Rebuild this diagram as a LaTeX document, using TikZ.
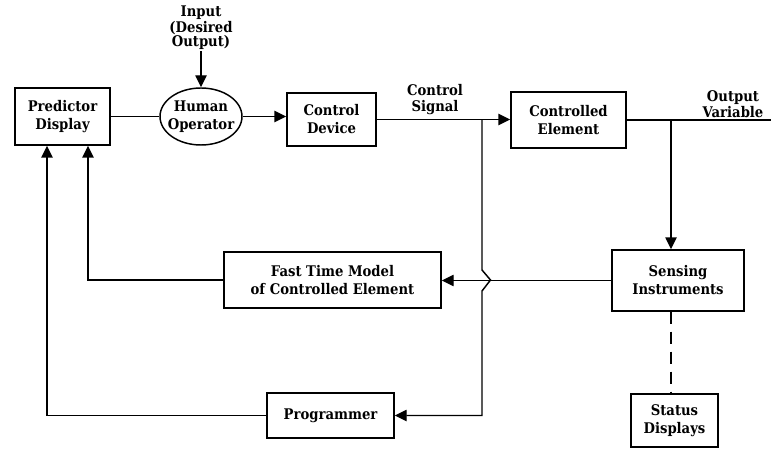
\documentclass[tikz,border=0pt]{standalone}
\usepackage{amsmath,amssymb,xcolor,tikz}
\usepackage{fontspec}
\setmainfont{DejaVu Serif}[FakeStretch=0.9]
\usetikzlibrary{arrows.meta,shapes.geometric}

\tikzset{
  blk/.style={draw, line width=1.1pt, align=center, inner sep=1pt, font=\fontsize{11}{13.5}\selectfont\bfseries},
  lbl/.style={align=center, inner sep=0.75pt, font=\fontsize{11}{12}\selectfont\bfseries},
  conn/.style={line width=1.1pt},
  arr/.style={conn, -{Triangle[length=9pt,width=8.5pt]}}
}

\begin{document}

\begin{tikzpicture}[x=0.75pt,y=0.75pt,yscale=-1,xscale=1]

\useasboundingbox (0,0) rectangle (771,449);

\node (pred) at (62.5,116.5) [blk, minimum width=71.25pt, minimum height=42.75pt] {Predictor\\Display};

\node (human) at (201,116.5) [blk, ellipse, inner xsep=-4.5pt, inner ysep=0pt, minimum width=61.5pt, minimum height=42.75pt] {Human\\Operator};

\node (ctrldev) at (331.5,119.5) [blk, minimum width=66.75pt, minimum height=39.75pt] {Control\\Device};

\node (ctrlel) at (568.5,120) [blk, minimum width=86.25pt, minimum height=42pt] {Controlled\\Element};

\node (fastmdl) at (332.5,280) [blk, minimum width=162.75pt, minimum height=42pt] {Fast Time Model\\of Controlled Element};

\node (sensing) at (678,280.5) [blk, minimum width=99pt, minimum height=45.75pt] {Sensing\\Instruments};

\node (prog) at (330.5,415.5) [blk, minimum width=95.25pt, minimum height=33.75pt] {Programmer};

\node (status) at (674.5,420.5) [blk, minimum width=65.25pt, minimum height=39.75pt] {Status\\Displays};

\node (input) at (201,28) [lbl, font=\fontsize{11}{10}\selectfont\bfseries] {Input\\(Desired\\Output)};

\node (sig) at (435,100) [lbl] {Control\\Signal};

\node (outvar) at (733,104) [lbl] {Output\\Variable};

\coordinate (sigsplit) at (482,120);
\coordinate (hopup) at (482,270);
\coordinate (hoptop) at (490.5,280);
\coordinate (hopdn) at (482,291);
\coordinate (sigcorner) at (482,415.5);
\coordinate (outsplit) at (671,120);
\coordinate (outend) at (771,120);
\coordinate (fmcorner) at (88,280);
\coordinate (prcorner) at (47,415.5);

\draw [arr] (input) -- (human);

\draw [conn] (pred) -- (human);

\draw [arr] (human.east) -- (human.east -| ctrldev.west);

\draw [arr] (ctrldev.east) -- (ctrldev.east -| ctrlel.west);

\draw [conn] (ctrlel.east) -- (outend);

\draw [arr] (outsplit) -- (outsplit |- sensing.north);

\draw [arr] (sensing.west) -- (sensing.west -| fastmdl.east);

\draw [arr] (fastmdl.west) -- (fmcorner) -- (fmcorner |- pred.south);

\draw [arr] (prog.west) -- (prcorner) -- (prcorner |- pred.south);

\draw [arr] (sigsplit) -- (hopup) -- (hoptop) -- (hopdn) -- (sigcorner) -- (prog.east);

\draw [conn, dash pattern=on 9pt off 6pt] (sensing.south -| outsplit) -- (status.north -| outsplit);

\end{tikzpicture}

\end{document}
